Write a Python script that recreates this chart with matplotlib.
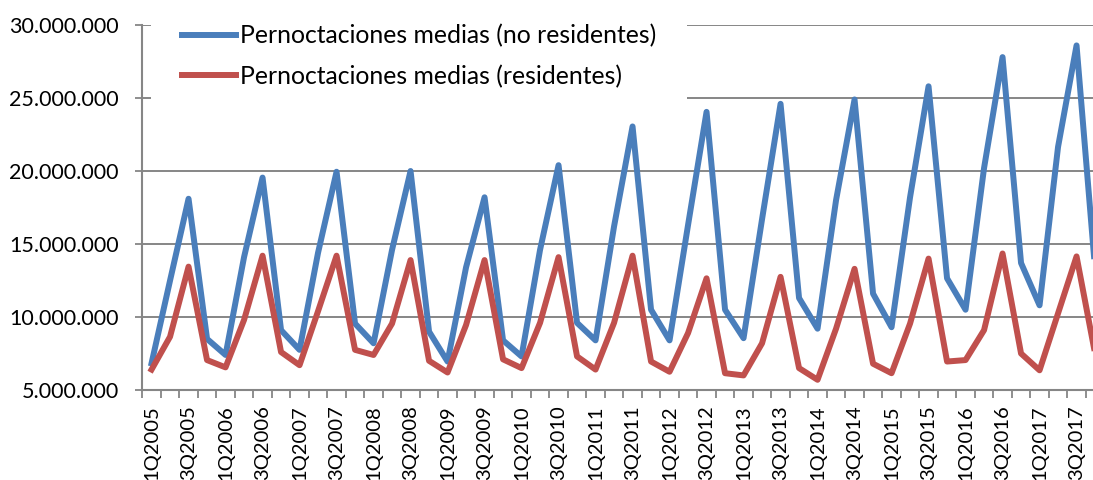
import matplotlib
matplotlib.use("Agg")
import matplotlib.pyplot as plt
from matplotlib.ticker import FuncFormatter
import numpy as np

# quarters 1Q2005 .. 4Q2017
years = list(range(2005, 2018))
quarters = [f"{q}Q{y}" for y in years for q in (1, 2, 3, 4)]

# millions of overnight stays
no_residentes = [
    6.83, 12.5, 18.1, 8.5,
    7.4, 14.1, 19.55, 9.1,
    7.75, 14.4, 19.95, 9.55,
    8.2, 14.6, 20.0, 9.0,
    6.95, 13.4, 18.2, 8.4,
    7.3, 14.6, 20.4, 9.6,
    8.4, 16.2, 23.05, 10.5,
    8.4, 16.3, 24.05, 10.5,
    8.55, 16.7, 24.6, 11.3,
    9.2, 18.0, 24.9, 11.6,
    9.3, 18.2, 25.8, 12.65,
    10.5, 20.2, 27.8, 13.7,
    10.8, 21.65, 28.6, 13.3,
]
residentes = [
    6.4, 8.65, 13.45, 7.05,
    6.55, 9.8, 14.2, 7.6,
    6.7, 10.4, 14.2, 7.75,
    7.4, 9.55, 13.9, 7.0,
    6.2, 9.45, 13.9, 7.1,
    6.5, 9.6, 14.1, 7.3,
    6.4, 9.6, 14.2, 6.95,
    6.25, 8.9, 12.65, 6.15,
    6.0, 8.2, 12.75, 6.5,
    5.7, 9.2, 13.3, 6.8,
    6.15, 9.55, 14.0, 6.95,
    7.05, 9.1, 14.35, 7.5,
    6.35, 10.25, 14.15, 7.5,
]

plt.rcParams['font.family'] = ['Lato', 'DejaVu Sans']

gray = '#868686'

fig = plt.figure(figsize=(10.93, 4.8), dpi=100)
ax = fig.add_axes([142.3 / 1093, 90 / 480, 962 / 1093, 365 / 480])

x = np.arange(len(quarters))
ax.plot(x, np.array(no_residentes) * 1e6, color='#4A7EBB', lw=4.3,
        solid_joinstyle='round', label='Pernoctaciones medias (no residentes)')
ax.plot(x, np.array(residentes) * 1e6, color='#C0504D', lw=4.3,
        solid_joinstyle='round', label='Pernoctaciones medias (residentes)')

ax.set_xlim(-0.5, len(quarters) - 0.5)
ax.set_ylim(5e6, 30e6)
ax.set_yticks(np.arange(5e6, 30.1e6, 5e6))
ax.yaxis.set_major_formatter(FuncFormatter(lambda v, p: f"{int(v):,}".replace(',', '.')))
ax.yaxis.grid(True, color=gray, lw=1.4)
ax.set_axisbelow(True)

for s in ('top', 'right'):
    ax.spines[s].set_visible(False)
for s in ('left', 'bottom'):
    ax.spines[s].set_color(gray)
    ax.spines[s].set_linewidth(1.5)

# tick marks at category boundaries, labels on every second quarter
ax.set_xticks(np.arange(-0.5, len(quarters), 1))
ax.set_xticklabels([])
ax.set_xticks(x[::2], minor=True)
ax.set_xticklabels(quarters[::2], minor=True, rotation=90, va='top')
ax.tick_params(axis='x', which='major', length=6, width=1.3, color=gray)
ax.tick_params(axis='x', which='minor', length=0, pad=11, labelsize=14.5)
ax.tick_params(axis='y', length=5, width=1.3, color=gray, pad=12, labelsize=15.5)

leg = ax.legend(loc='upper left', bbox_to_anchor=(151 / 1093, 486.5 / 480),
                bbox_transform=fig.transFigure, fontsize=17.8, frameon=True,
                fancybox=False, handlelength=2.2, handletextpad=0.16,
                labelspacing=0.68, borderpad=1.25, borderaxespad=0)
leg.get_frame().set_facecolor('white')
leg.get_frame().set_edgecolor('none')
leg.get_frame().set_alpha(1)

plt.savefig('out.png', dpi=100)
